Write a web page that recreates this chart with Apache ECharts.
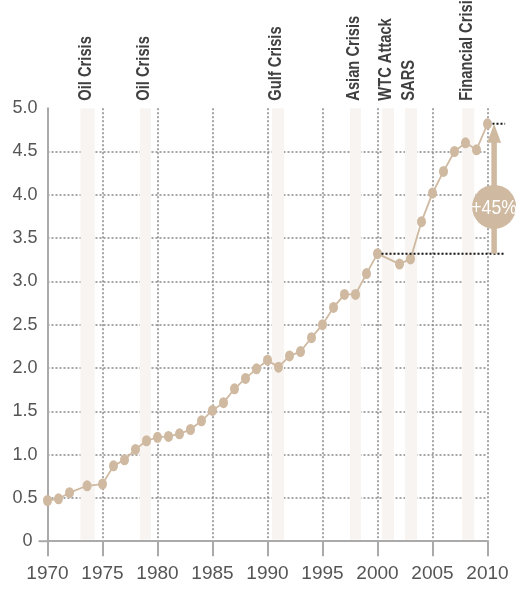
<!DOCTYPE html>
<html>
<head>
<meta charset="utf-8">
<style>
  html, body { margin: 0; padding: 0; background: #ffffff; }
  #chart { width: 517px; height: 589px; }
</style>
<script src="https://cdn.jsdelivr.net/npm/echarts@6/dist/echarts.min.js"></script>
</head>
<body>
<div id="chart"></div>
<script>
// ---- data ----
var years  = [1970, 1971, 1972, 1973.6, 1975, 1976, 1977, 1978, 1979, 1980, 1981, 1982, 1983, 1984,
              1985, 1986, 1987, 1988, 1989, 1990, 1991, 1992, 1993, 1994, 1995, 1996, 1997, 1998,
              1999, 2000, 2002, 2003, 2004, 2005, 2006, 2007, 2008, 2009, 2010];
var values = [0.47, 0.49, 0.56, 0.64, 0.66, 0.87, 0.94, 1.06, 1.16, 1.20, 1.21, 1.24, 1.29, 1.39,
              1.51, 1.60, 1.76, 1.88, 1.99, 2.09, 2.01, 2.14, 2.19, 2.35, 2.50, 2.70, 2.85, 2.85,
              3.09, 3.32, 3.20, 3.26, 3.69, 4.02, 4.27, 4.50, 4.60, 4.52, 4.82];

var crisisLabels = ['Oil Crisis', 'Oil Crisis', 'Gulf Crisis', 'Asian Crisis', 'WTC Attack', 'SARS', 'Financial Crisis'];
var crisisStart  = [1973.0, 1978.4, 1990.4, 1997.5, 2000.4, 2002.5, 2007.7];
var crisisEnd    = [1974.3, 1979.4, 1991.5, 1998.5, 2001.5, 2003.6, 2008.8];

var xTickMin = 1970, xTickMax = 2010, xTickStep = 5;
var yTickMin = 0, yTickMax = 5, yTickStep = 0.5;

var baseYear = 2000;          // reference point of the growth annotation
var arrowYear = 2010.6;       // where the arrow stands
var guideEndYear = 2011.6;    // end of the dotted guide lines
var bubbleValue = 3.86;       // where the bubble sits on the arrow
var growthLabel = '+45%';

// ---- derived ----
var lineData = years.map(function (y, i) { return [y, values[i]]; });
var bandData = crisisStart.map(function (s, i) { return [s, crisisEnd[i], i]; });
var baseVal = values[years.indexOf(baseYear)];
var topYear = years[years.length - 1];
var topVal = values[values.length - 1];

var TAN = '#cfb9a0';
var BAND = '#f8f4f1';
var FONT = '"Liberation Sans", Arial, sans-serif';
var NARROW = 0.84;  // horizontal squeeze to mimic a condensed face

var chart = echarts.init(document.getElementById('chart'), null, { renderer: 'canvas' });

chart.setOption({
  animation: false,
  backgroundColor: '#ffffff',
  grid: { left: 47.5, right: 29.5, top: 108.2, bottom: 47.8, containLabel: false, outerBoundsMode: 'none' },
  xAxis: {
    type: 'value', min: xTickMin, max: xTickMax, interval: xTickStep,
    axisLine: { show: true, lineStyle: { color: '#aaaaaa', width: 2 } },
    axisTick: { show: true, length: 15, lineStyle: { color: '#aaaaaa', width: 2 } },
    axisLabel: { color: '#555555', fontFamily: FONT, fontSize: 19, margin: 23,
                 formatter: function (v) { return String(v); } },
    splitLine: { show: true, showMinLine: false, lineStyle: { color: '#888888', width: 1.5, type: [2, 2] } }
  },
  yAxis: {
    type: 'value', min: yTickMin, max: yTickMax, interval: yTickStep,
    axisLine: { show: true, lineStyle: { color: '#aaaaaa', width: 2 } },
    axisTick: { show: false },
    axisLabel: {
      color: '#555555', fontFamily: FONT, fontSize: 18, margin: 10,
      formatter: function (v) { return v === 0 ? '{z|0}' : v.toFixed(1); },
      rich: { z: { color: '#555555', fontFamily: FONT, fontSize: 18, padding: [0, 5, 0, 0] } }
    },
    splitLine: { show: true, showMinLine: false, showMaxLine: false,
                 lineStyle: { color: '#888888', width: 1.5, type: [2, 2] } }
  },
  series: [
    {
      type: 'custom',
      z: 1,
      data: bandData,
      clip: false,
      renderItem: function (params, api) {
        var s = api.value(0), e = api.value(1), idx = api.value(2);
        var p0 = api.coord([s, yTickMax]);
        var p1 = api.coord([e, yTickMin]);
        var mid = api.coord([(s + e) / 2, yTickMax]);
        return {
          type: 'group',
          children: [
            { type: 'rect', shape: { x: p0[0], y: p0[1], width: p1[0] - p0[0], height: p1[1] - p0[1] - 1.5 },
              style: { fill: BAND } },
            { type: 'text', x: mid[0] - 1.5, y: p0[1] - 7.5, rotation: Math.PI / 2, scaleX: NARROW,
              style: { text: crisisLabels[idx], fill: '#404040', font: 'bold 17.5px ' + FONT,
                       align: 'left', verticalAlign: 'middle' } }
          ]
        };
      }
    },
    {
      type: 'line',
      z: 3,
      data: lineData,
      symbol: 'circle',
      symbolSize: [9, 11],
      lineStyle: { color: TAN, width: 1.8 },
      itemStyle: { color: TAN },
      emphasis: { disabled: true }
    },
    {
      type: 'custom',
      z: 4,
      data: [[arrowYear, baseVal, topVal]],
      clip: false,
      renderItem: function (params, api) {
        var b = api.coord([arrowYear, baseVal]);
        var t = api.coord([arrowYear, topVal]);
        var g0 = api.coord([baseYear, baseVal]);
        var g1 = api.coord([guideEndYear, baseVal]);
        var h0 = api.coord([topYear, topVal]);
        var h1 = api.coord([guideEndYear, topVal]);
        var c = api.coord([arrowYear, bubbleValue]);
        var zero = api.coord([xTickMin, yTickMin]);
        var headH = 19, headW = 14;
        var dotted = { stroke: '#111111', lineWidth: 2, lineDash: [2, 2] };
        return {
          type: 'group',
          children: [
            { type: 'line', shape: { x1: zero[0] - 9, y1: zero[1], x2: zero[0], y2: zero[1] },
              style: { stroke: '#aaaaaa', lineWidth: 2 } },
            { type: 'line', shape: { x1: g0[0] + 4, y1: g0[1], x2: g1[0], y2: g1[1] }, style: dotted },
            { type: 'line', shape: { x1: h0[0] + 5, y1: h0[1], x2: h1[0], y2: h1[1] }, style: dotted },
            { type: 'line', shape: { x1: b[0], y1: b[1], x2: t[0], y2: t[1] + headH - 1 },
              style: { stroke: TAN, lineWidth: 5.5 } },
            { type: 'polygon', shape: { points: [[t[0], t[1]], [t[0] - headW / 2, t[1] + headH], [t[0] + headW / 2, t[1] + headH]] },
              style: { fill: TAN } },
            { type: 'circle', shape: { cx: c[0], cy: c[1], r: 22 }, style: { fill: TAN } },
            { type: 'text', x: c[0], y: c[1] + 1, scaleX: NARROW,
              style: { text: growthLabel, fill: '#ffffff', font: '21px ' + FONT, align: 'center', verticalAlign: 'middle' } }
          ]
        };
      }
    }
  ]
});
</script>
</body>
</html>
